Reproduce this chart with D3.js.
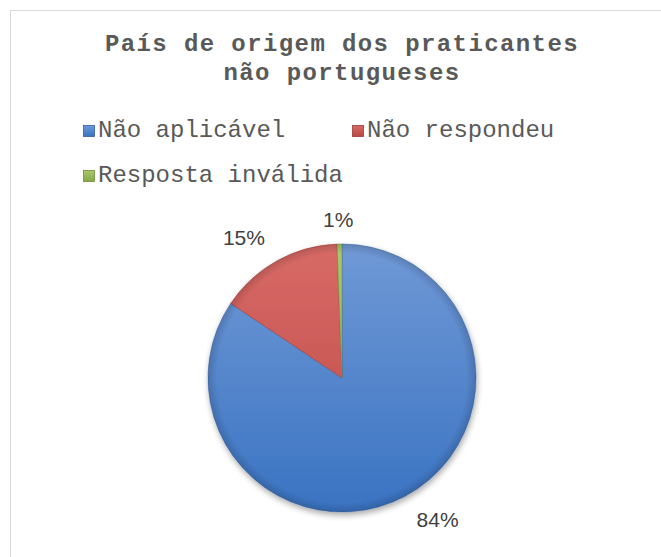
<!DOCTYPE html>
<html>
<head>
<meta charset="utf-8">
<script src="https://cdn.jsdelivr.net/npm/d3@7"></script>
<style>
  body { margin: 0; background: #fff; }
  svg { display: block; }
</style>
</head>
<body>
<div class="chart"></div>
<script>
const titleLines = ['País de origem dos praticantes', 'não portugueses'];
const categories = ['Não aplicável', 'Não respondeu', 'Resposta inválida'];
const values = [84.4, 15.0, 0.6];
const labels = ['84%', '15%', '1%'];

const width = 661;
const height = 557;
const cx = 342, cy = 378, radius = 134;

const palette = [
  {top: '#7099d6', bottom: '#3a73c2', edge: '#2f5f9e'},
  {top: '#d86a66', bottom: '#bb4744', edge: '#9a3a37'},
  {top: '#a8c86a', bottom: '#86a847', edge: '#6f8a3a'}
];

const svg = d3.select('.chart')
  .append('svg')
  .attr('width', width)
  .attr('height', height);

const defs = svg.append('defs');

palette.forEach((c, i) => {
  const g = defs.append('linearGradient')
    .attr('id', 'grad' + i)
    .attr('x1', 0).attr('y1', 0).attr('x2', 0).attr('y2', 1);
  g.append('stop').attr('offset', '0%').attr('stop-color', c.top);
  g.append('stop').attr('offset', '100%').attr('stop-color', c.bottom);

  // same light for every slice: gradient in the pie group's own coords
  const gp = defs.append('linearGradient')
    .attr('id', 'pgrad' + i)
    .attr('gradientUnits', 'userSpaceOnUse')
    .attr('x1', 0).attr('y1', -radius).attr('x2', 0).attr('y2', radius);
  gp.append('stop').attr('offset', '0%').attr('stop-color', c.top);
  gp.append('stop').attr('offset', '100%').attr('stop-color', c.bottom);
});

// darker rim, a hint of the bevel
const rim = defs.append('radialGradient')
  .attr('id', 'rim')
  .attr('gradientUnits', 'userSpaceOnUse')
  .attr('cx', 0).attr('cy', 0).attr('r', radius);
rim.append('stop').attr('offset', '0%').attr('stop-color', '#000').attr('stop-opacity', 0);
rim.append('stop').attr('offset', '93%').attr('stop-color', '#000').attr('stop-opacity', 0);
rim.append('stop').attr('offset', '100%').attr('stop-color', '#000').attr('stop-opacity', 0.15);

const shadow = defs.append('filter')
  .attr('id', 'shadow')
  .attr('x', '-20%').attr('y', '-20%').attr('width', '140%').attr('height', '140%');
shadow.append('feGaussianBlur').attr('in', 'SourceAlpha').attr('stdDeviation', 3);
shadow.append('feOffset').attr('dx', 1).attr('dy', 3).attr('result', 'off');
shadow.append('feComponentTransfer').append('feFuncA').attr('type', 'linear').attr('slope', 0.35);
const merge = shadow.append('feMerge');
merge.append('feMergeNode');
merge.append('feMergeNode').attr('in', 'SourceGraphic');

// chart border
svg.append('rect')
  .attr('x', 10.5).attr('y', 10.5)
  .attr('width', 700).attr('height', 600)
  .attr('fill', '#fff')
  .attr('stroke', '#d9d9d9');

// title
svg.append('text')
  .attr('text-anchor', 'middle')
  .attr('font-family', '"Liberation Mono", monospace')
  .attr('font-weight', 'bold')
  .attr('font-size', 24)
  .attr('letter-spacing', 1.4)
  .attr('fill', '#595959')
  .selectAll('tspan')
  .data(titleLines)
  .enter()
  .append('tspan')
  .attr('x', 342)
  .attr('y', (d, i) => 51 + i * 29)
  .text(d => d);

// legend
const legendPos = [[83, 137], [352, 137], [83, 182]];
const legend = svg.append('g');
const items = legend.selectAll('g')
  .data(categories)
  .enter()
  .append('g')
  .attr('transform', (d, i) => `translate(${legendPos[i][0]}, ${legendPos[i][1]})`);

items.append('rect')
  .attr('x', 0.5).attr('y', -11.5)
  .attr('width', 11).attr('height', 11)
  .attr('fill', (d, i) => `url(#grad${i})`)
  .attr('stroke', (d, i) => palette[i].edge)
  .attr('stroke-width', 0.8);

items.append('text')
  .attr('x', 15)
  .attr('y', 0)
  .attr('font-family', '"Liberation Mono", monospace')
  .attr('font-size', 24)
  .attr('fill', '#595959')
  .text(d => d);

// pie
const pie = d3.pie().sort(null).value(d => d);
const arcs = pie(values);
const arc = d3.arc().innerRadius(0).outerRadius(radius);

const pieG = svg.append('g')
  .attr('transform', `translate(${cx}, ${cy})`);

pieG.append('g')
  .attr('filter', 'url(#shadow)')
  .selectAll('path')
  .data(arcs)
  .enter()
  .append('path')
  .attr('d', arc)
  .attr('fill', (d, i) => `url(#pgrad${i})`)
  .attr('stroke', (d, i) => palette[i].edge)
  .attr('stroke-width', 0.8)
  .attr('stroke-opacity', 0.6);

pieG.append('circle')
  .attr('r', radius)
  .attr('fill', 'url(#rim)')
  .attr('pointer-events', 'none');

// percentage labels (outside end)
const lw = [43, 43, 28];
const gap = 15;
pieG.selectAll('text.pct')
  .data(arcs)
  .enter()
  .append('text')
  .attr('class', 'pct')
  .attr('text-anchor', 'middle')
  .attr('dominant-baseline', 'central')
  .attr('font-family', '"Liberation Sans", Arial, sans-serif')
  .attr('font-size', 21)
  .attr('fill', '#404040')
  .attr('transform', (d, i) => {
    const a = (d.startAngle + d.endAngle) / 2;
    const s = Math.sin(a), c = Math.cos(a);
    const side = Math.max(-1, Math.min(1, s * 3));
    const x = (radius + gap) * s + (lw[i] / 2 + 4) * side;
    const y = -(radius + gap) * c - 10 * Math.sign(c);
    return `translate(${x}, ${y})`;
  })
  .text((d, i) => labels[i]);
</script>
</body>
</html>
